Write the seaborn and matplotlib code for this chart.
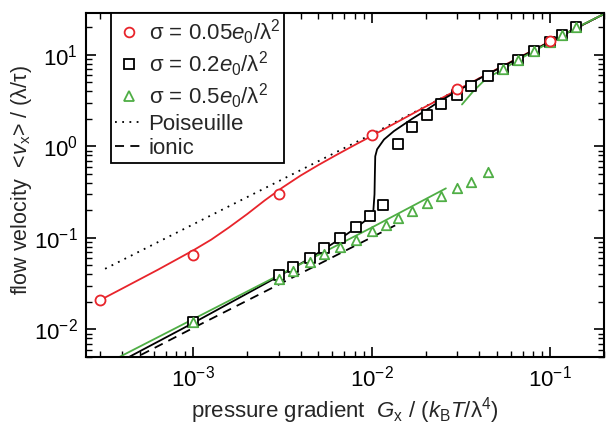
import numpy as np
import pandas as pd
import seaborn as sns
import matplotlib.pyplot as plt
from matplotlib.lines import Line2D

# sigma = 0.05 e0/lambda^2 (red)
red_x = [3e-4, 1e-3, 3e-3, 1e-2, 3e-2, 0.1]
red_y = [0.021, 0.065, 0.30, 1.32, 4.2, 14.3]
red_fit_x = [3e-4, 3.98e-4, 6.31e-4, 1e-3, 1.26e-3, 1.58e-3, 2e-3, 2.51e-3, 3.16e-3, 3.98e-3,
             5.01e-3, 6.31e-3, 7.94e-3, 1e-2, 2e-2, 4e-2, 0.1, 0.2]
red_fit_y = [0.0209, 0.0279, 0.0448, 0.0733, 0.0959, 0.130, 0.182, 0.257, 0.356, 0.479,
             0.625, 0.804, 1.026, 1.303, 2.72, 5.55, 14.1, 28.0]

# sigma = 0.2 e0/lambda^2 (black)
sq_x = [1e-3, 3e-3, 3.6e-3, 4.5e-3, 5.4e-3, 6.6e-3, 8.1e-3, 9.8e-3, 1.16e-2, 1.4e-2, 1.67e-2,
        2.04e-2, 2.44e-2, 3.0e-2, 3.6e-2, 4.5e-2, 5.4e-2, 6.6e-2, 8.1e-2, 0.1, 0.117, 0.14]
sq_y = [0.012, 0.039, 0.048, 0.060, 0.077, 0.101, 0.131, 0.172, 0.231, 1.05, 1.62,
        2.23, 2.89, 3.69, 4.55, 5.94, 7.0, 8.9, 11.1, 13.9, 16.5, 20.2]
black_fit_x = [3e-4, 1e-3, 3e-3, 4.5e-3, 6.6e-3, 8.1e-3, 9.8e-3, 1.02e-2, 1.035e-2, 1.04e-2, 1.045e-2,
               1.07e-2, 1.17e-2, 1.33e-2, 1.68e-2, 2.04e-2, 2.4e-2, 3e-2, 4e-2, 6e-2, 0.1, 0.2]
black_fit_y = [0.0034, 0.0118, 0.038, 0.060, 0.097, 0.128, 0.17, 0.20, 0.30, 0.50, 0.78,
               0.93, 1.19, 1.47, 2.0, 2.53, 3.12, 4.0, 5.5, 8.3, 14.0, 28.0]

# sigma = 0.5 e0/lambda^2 (green)
tri_x = [1e-3, 3e-3, 3.6e-3, 4.5e-3, 5.4e-3, 6.6e-3, 8.1e-3, 1e-2, 1.2e-2, 1.4e-2, 1.67e-2,
         2.04e-2, 2.44e-2, 3.0e-2, 3.6e-2, 4.5e-2, 5.4e-2, 6.6e-2, 8.1e-2, 0.1, 0.117, 0.14]
tri_y = [0.012, 0.0355, 0.0437, 0.054, 0.066, 0.079, 0.094, 0.118, 0.139, 0.164, 0.197,
         0.243, 0.287, 0.348, 0.412, 0.53, 7.0, 8.9, 11.1, 13.9, 16.5, 20.2]
green_low_x = [3e-4, 1e-3, 3e-3, 1e-2, 2.6e-2]
green_low_y = [0.0039, 0.013, 0.039, 0.13, 0.348]
green_up_x = [3.2e-2, 3.7e-2, 4.2e-2, 4.8e-2, 5.4e-2, 6.6e-2, 8.1e-2, 0.1, 0.14, 0.2]
green_up_y = [2.87, 4.0, 5.1, 6.1, 6.9, 8.8, 11.0, 13.8, 19.8, 28.0]

# reference curves
pois_x = [3.2e-4, 1e-2, 0.2]
pois_y = [0.046, 1.36, 28.0]
ionic_x = [3e-4, 1e-3, 1.47e-2]
ionic_y = [0.0031, 0.0104, 0.149]

RED = '#e8242b'
GREEN = '#4fae45'

sns.set_style('ticks')
plt.rcParams['font.family'] = ['Liberation Sans', 'DejaVu Sans']
plt.rcParams['mathtext.fontset'] = 'custom'
plt.rcParams['mathtext.rm'] = 'Liberation Sans'
plt.rcParams['mathtext.it'] = 'Liberation Sans:italic'
plt.rcParams['font.size'] = 16

fig = plt.figure(figsize=(6.08, 4.26), dpi=100)
ax = fig.add_axes([0.1414, 0.162, 0.852, 0.8075])

def line(x, y, color, ls='-', lw=1.3):
    sns.lineplot(data=pd.DataFrame({'x': x, 'y': y}), x='x', y='y', color=color,
                 linestyle=ls, linewidth=lw, sort=False, estimator=None, ax=ax)

line(pois_x, pois_y, 'black', ls=(0, (1, 3)), lw=1.3)
line(ionic_x, ionic_y, 'black', ls=(0, (5, 3.5)), lw=1.3)
line(red_fit_x, red_fit_y, RED)
line(black_fit_x, black_fit_y, 'black')
line(green_low_x, green_low_y, GREEN)
line(green_up_x, green_up_y, GREEN)

sns.scatterplot(x=sq_x, y=sq_y, marker='s', s=46, facecolor='white', edgecolor='black',
                linewidth=1.3, ax=ax, zorder=3)
sns.scatterplot(x=tri_x, y=tri_y, marker='^', s=46, facecolor='white', edgecolor=GREEN,
                linewidth=1.3, ax=ax, zorder=4)
sns.scatterplot(x=red_x, y=red_y, marker='o', s=52, facecolor='white', edgecolor=RED,
                linewidth=1.3, ax=ax, zorder=5)

ax.set_xscale('log')
ax.set_yscale('log')
ax.set_xlim(2.5e-4, 0.2)
ax.set_ylim(5e-3, 28.7)
ax.set_xlabel(r'pressure gradient  $G_\mathrm{x}$ / ($k_\mathrm{B}T$/λ$^4$)', fontsize=16, labelpad=3)
ax.set_ylabel(r'flow velocity  <$v_\mathrm{x}$> / (λ/τ)', fontsize=15.5)
ax.yaxis.set_label_coords(-0.1, 0.515)
ax.tick_params(which='both', direction='in', top=True, right=True, labelsize=16, colors='black')
ax.tick_params(which='major', length=7, width=1.2, pad=6)
ax.tick_params(which='minor', length=4, width=1.0)
for s in ax.spines.values():
    s.set_linewidth(1.5)
    s.set_color('black')

handles = [
    Line2D([], [], ls='none', marker='o', ms=7, mfc='white', mec=RED, mew=1.3),
    Line2D([], [], ls='none', marker='s', ms=6.5, mfc='white', mec='black', mew=1.3),
    Line2D([], [], ls='none', marker='^', ms=7, mfc='white', mec=GREEN, mew=1.3),
    Line2D([], [], color='black', ls=(0, (1, 3)), lw=1.3),
    Line2D([], [], color='black', ls=(0, (5, 3.5)), lw=1.3),
]
labels = [r'σ = 0.05$e_0$/λ$^2$', r'σ = 0.2$e_0$/λ$^2$', r'σ = 0.5$e_0$/λ$^2$',
          'Poiseuille', 'ionic']
leg = ax.legend(handles, labels, loc='upper left', bbox_to_anchor=(0.048, 1.0),
                borderaxespad=0, frameon=True, fancybox=False, edgecolor='black',
                handlelength=1.2, handletextpad=0.3, labelspacing=0.12, fontsize=16,
                borderpad=0.2)
leg.get_frame().set_linewidth(1.3)
leg.get_frame().set_alpha(1)

fig.savefig('out.png', dpi=100)
